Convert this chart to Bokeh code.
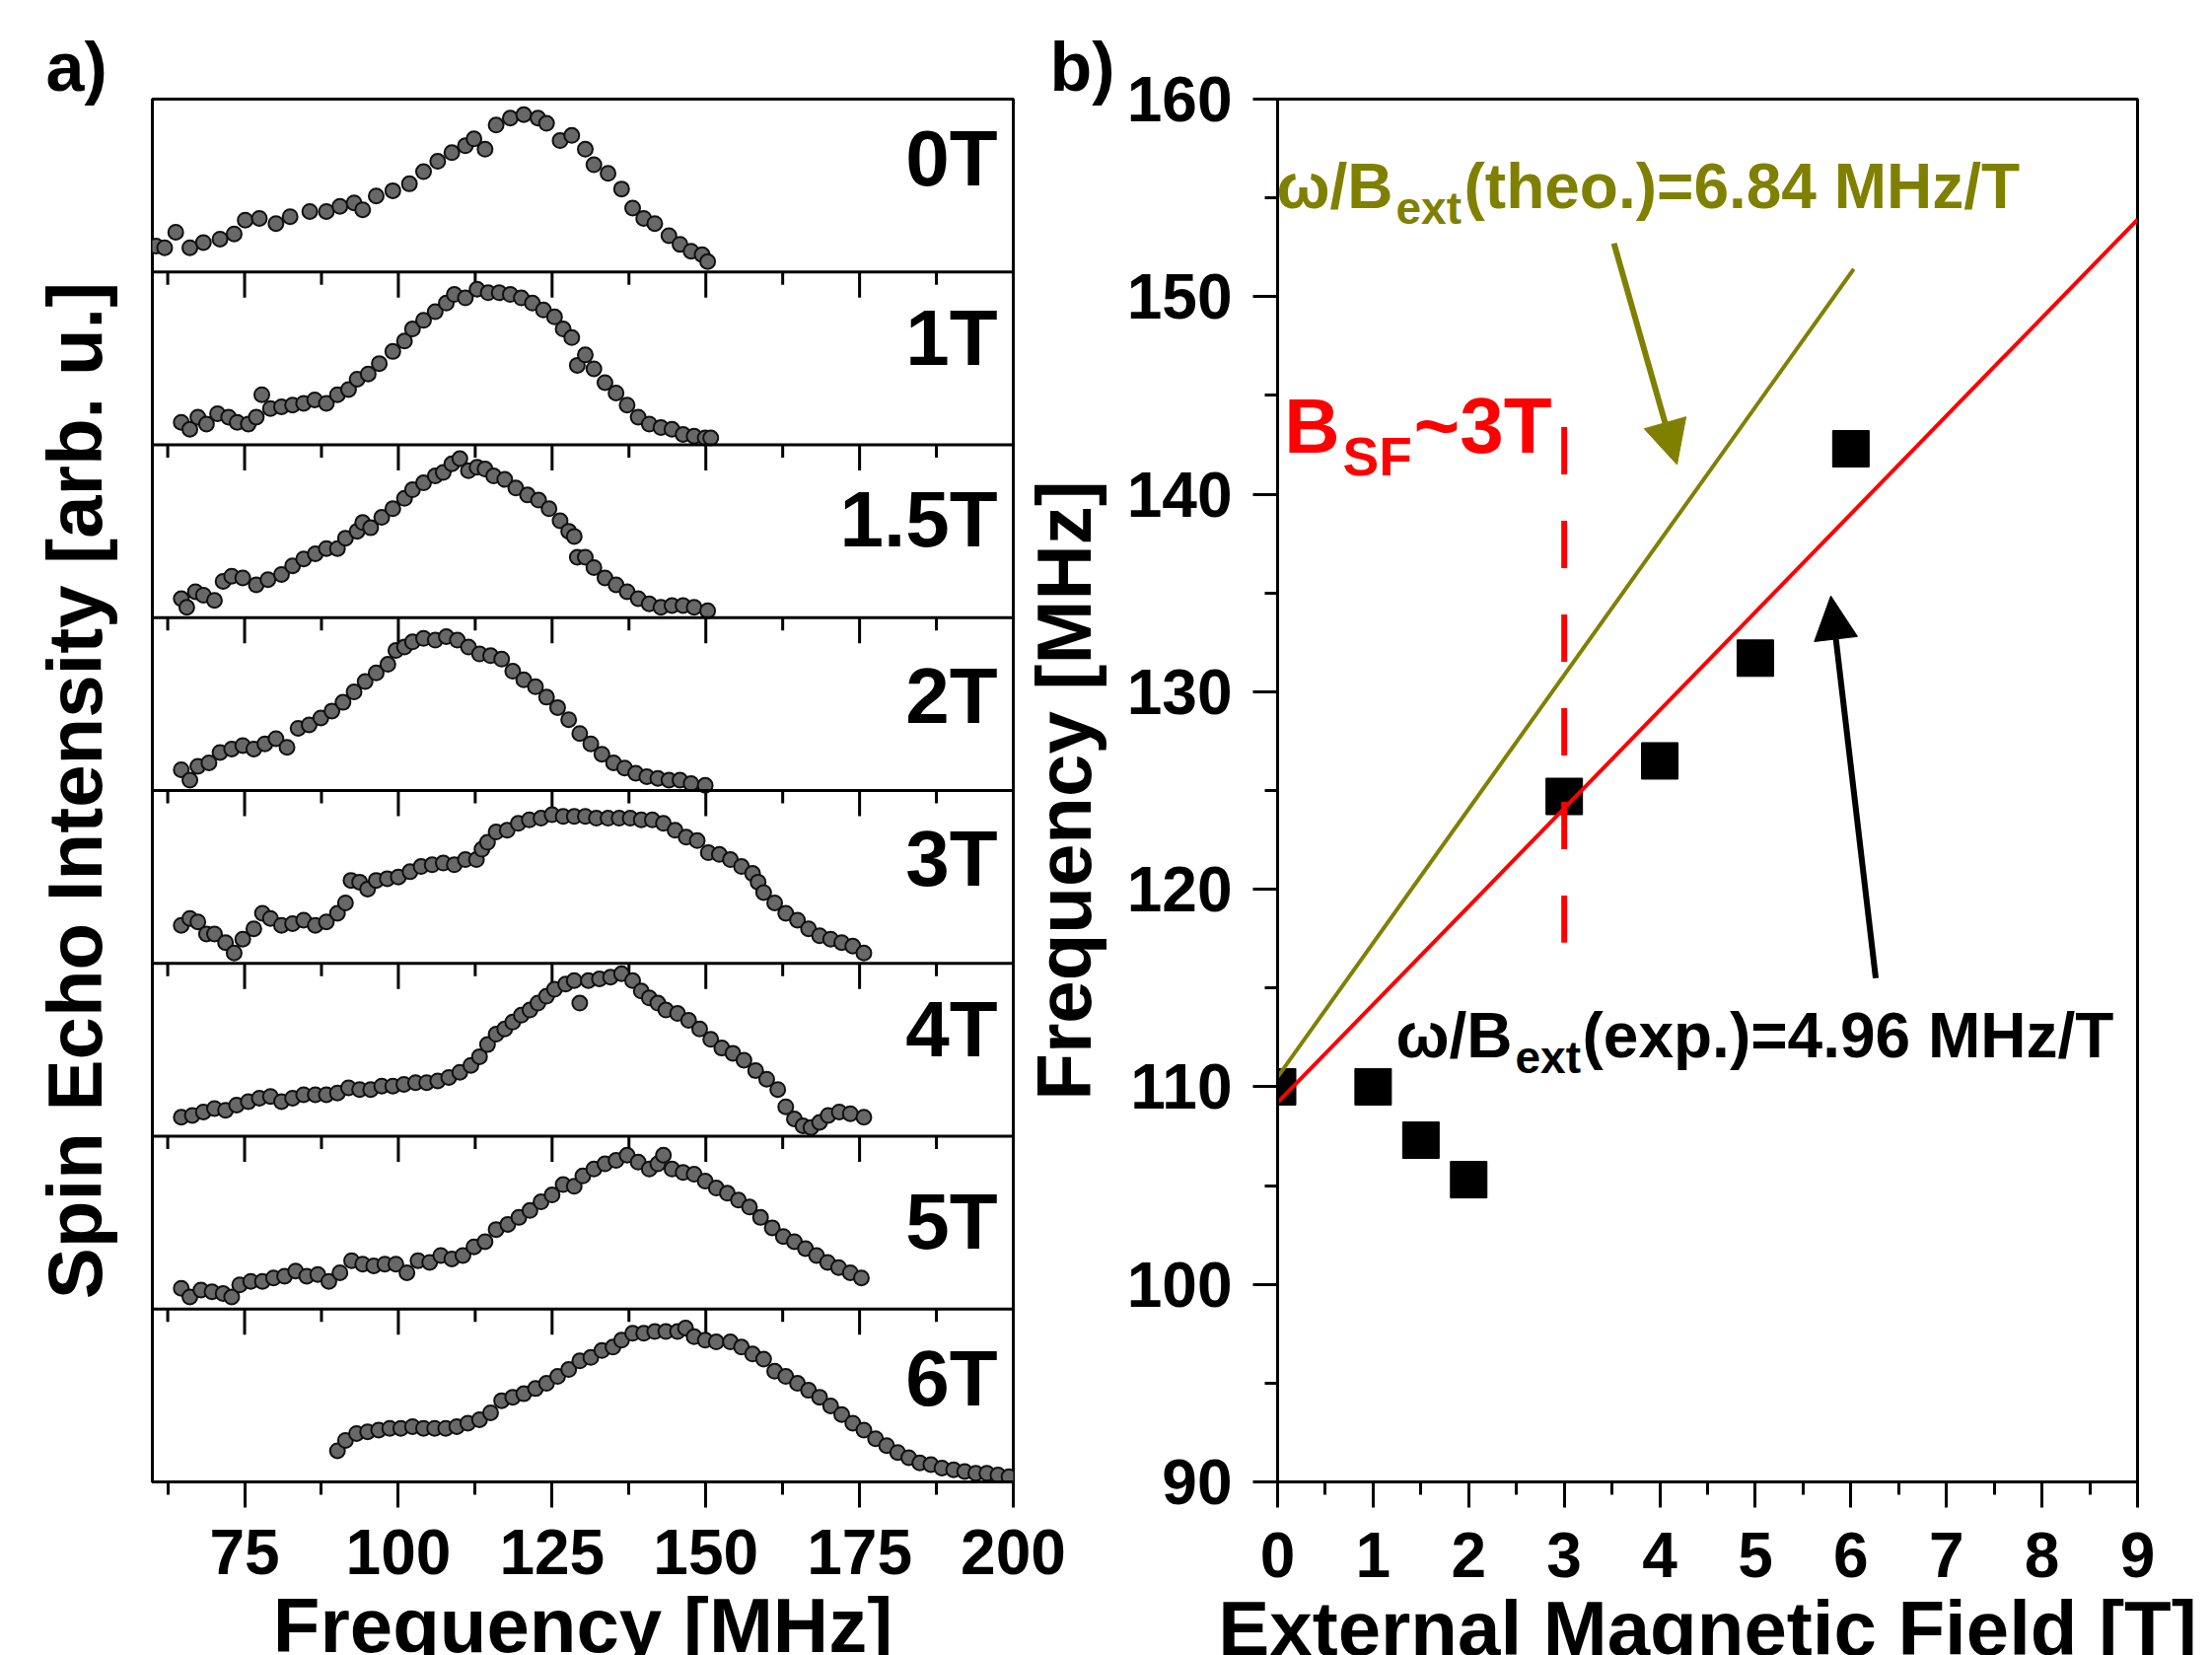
from bokeh.plotting import figure
from bokeh.models import Label, Span, FixedTicker, Arrow, NormalHead, Range1d, Title
from bokeh.layouts import row
from bokeh.embed import file_html
from bokeh.resources import INLINE

FONT = "Liberation Sans"
OLIVE = "#808000"
RED = "#ff0000"

# ---------------- panel a: spin echo spectra (frequency MHz, normalised intensity) ----------------
fields_a = ["0T", "1T", "1.5T", "2T", "3T", "4T", "5T", "6T"]

spec_0T = [(60.6, 0.15), (62.0, 0.14), (63.8, 0.23), (66.1, 0.14), (68.3, 0.17), (71.0, 0.19), (73.3, 0.22),
           (75.1, 0.30), (77.4, 0.31), (80.1, 0.28), (82.4, 0.32), (85.6, 0.35), (88.3, 0.35), (90.5, 0.38),
           (92.8, 0.40), (94.2, 0.36), (96.4, 0.44), (99.1, 0.47), (101.8, 0.51), (104.1, 0.58), (106.4, 0.64),
           (108.7, 0.69), (110.9, 0.73), (112.3, 0.77), (114.1, 0.71), (115.9, 0.85), (118.2, 0.89), (120.4, 0.91),
           (122.7, 0.89), (124.1, 0.86), (126.3, 0.76), (128.2, 0.79), (130.4, 0.71), (131.8, 0.62), (134.1, 0.57),
           (136.3, 0.48), (138.1, 0.37), (139.9, 0.31), (141.7, 0.28), (144.0, 0.21), (145.8, 0.16), (147.6, 0.12),
           (149.4, 0.10), (150.3, 0.06)]

spec_1T = [(64.7, 0.13), (66.1, 0.09), (67.4, 0.16), (68.8, 0.12), (70.6, 0.18), (72.4, 0.16), (73.8, 0.13),
           (75.6, 0.12), (76.9, 0.16), (77.8, 0.29), (79.2, 0.21), (81.0, 0.22), (82.8, 0.23), (84.6, 0.24),
           (86.4, 0.26), (88.3, 0.24), (90.1, 0.29), (91.9, 0.32), (93.3, 0.38), (95.1, 0.41), (96.9, 0.47),
           (99.1, 0.54), (101.0, 0.60), (102.3, 0.67), (104.1, 0.72), (106.0, 0.77), (107.8, 0.82), (109.1, 0.87),
           (110.9, 0.85), (112.8, 0.90), (114.6, 0.88), (116.4, 0.88), (118.2, 0.87), (120.0, 0.85), (121.8, 0.82),
           (123.6, 0.78), (125.4, 0.74), (126.8, 0.67), (128.2, 0.62), (129.1, 0.46), (130.4, 0.52), (131.8, 0.44),
           (133.6, 0.36), (135.4, 0.30), (137.2, 0.23), (139.0, 0.16), (140.8, 0.12), (142.7, 0.10), (144.5, 0.09),
           (146.3, 0.06), (148.1, 0.05), (149.9, 0.04), (150.8, 0.04)]

spec_15T = [(64.7, 0.11), (65.6, 0.06), (67.0, 0.15), (68.3, 0.13), (70.1, 0.10), (71.5, 0.21), (72.9, 0.24),
            (74.7, 0.23), (76.9, 0.19), (78.8, 0.22), (81.0, 0.25), (82.8, 0.30), (84.6, 0.34), (86.5, 0.37),
            (88.3, 0.40), (90.1, 0.40), (91.4, 0.46), (93.3, 0.50), (94.2, 0.55), (95.5, 0.52), (97.3, 0.58),
            (99.1, 0.63), (101.0, 0.69), (102.3, 0.74), (104.1, 0.78), (106.0, 0.82), (107.3, 0.84), (108.7, 0.89),
            (110.0, 0.92), (111.4, 0.85), (112.8, 0.87), (114.1, 0.86), (115.5, 0.82), (117.3, 0.80), (119.1, 0.75),
            (121.0, 0.71), (122.8, 0.68), (124.5, 0.63), (126.3, 0.56), (127.7, 0.50), (128.6, 0.47), (129.1, 0.35),
            (130.4, 0.35), (131.8, 0.29), (133.6, 0.23), (135.4, 0.19), (137.2, 0.15), (139.0, 0.11), (140.8, 0.08),
            (142.7, 0.06), (144.5, 0.07), (146.3, 0.07), (148.1, 0.06), (150.3, 0.04)]

spec_2T = [(64.7, 0.12), (66.1, 0.06), (67.4, 0.14), (69.2, 0.16), (71.0, 0.22), (72.9, 0.24), (74.7, 0.26),
           (76.5, 0.24), (78.3, 0.27), (80.1, 0.30), (81.9, 0.25), (83.7, 0.36), (85.5, 0.38), (87.4, 0.42),
           (89.2, 0.46), (91.0, 0.51), (92.8, 0.57), (94.6, 0.63), (96.4, 0.68), (98.3, 0.73), (99.6, 0.81),
           (101.0, 0.83), (102.3, 0.86), (104.1, 0.88), (106.0, 0.87), (107.8, 0.89), (109.6, 0.87), (111.4, 0.83),
           (113.2, 0.79), (115.0, 0.78), (116.8, 0.76), (118.6, 0.69), (120.4, 0.64), (122.3, 0.60), (124.1, 0.54),
           (125.9, 0.48), (127.7, 0.41), (129.5, 0.33), (131.3, 0.27), (133.1, 0.21), (135.0, 0.16), (136.8, 0.13),
           (138.6, 0.10), (140.4, 0.08), (142.2, 0.07), (144.0, 0.06), (145.8, 0.06), (147.6, 0.04), (149.9, 0.03)]

spec_3T = [(64.7, 0.22), (66.1, 0.26), (67.4, 0.24), (68.8, 0.17), (70.1, 0.17), (71.9, 0.12), (73.3, 0.06),
           (74.7, 0.14), (76.5, 0.20), (77.9, 0.29), (79.2, 0.26), (81.0, 0.22), (82.8, 0.23), (84.6, 0.25),
           (86.5, 0.22), (88.3, 0.24), (90.1, 0.29), (91.4, 0.35), (92.3, 0.48), (93.7, 0.47), (95.0, 0.43),
           (96.4, 0.48), (98.2, 0.49), (100.0, 0.50), (101.9, 0.53), (103.7, 0.56), (105.5, 0.57), (107.3, 0.58),
           (109.1, 0.57), (110.9, 0.60), (112.7, 0.60), (113.6, 0.66), (114.5, 0.70), (115.9, 0.76), (117.7, 0.77),
           (119.5, 0.81), (121.3, 0.83), (123.2, 0.84), (125.0, 0.86), (126.8, 0.85), (128.6, 0.85), (130.4, 0.85),
           (132.2, 0.84), (134.1, 0.84), (135.9, 0.84), (137.7, 0.84), (139.5, 0.83), (141.3, 0.83), (143.1, 0.81),
           (145.0, 0.77), (146.8, 0.73), (148.6, 0.71), (150.4, 0.64), (152.2, 0.63), (154.0, 0.60), (155.8, 0.56),
           (157.6, 0.52), (158.5, 0.47), (159.4, 0.41), (161.2, 0.35), (163.0, 0.29), (164.9, 0.25), (166.7, 0.20),
           (168.5, 0.16), (170.3, 0.14), (172.1, 0.12), (173.9, 0.10), (175.7, 0.06)]

spec_4T = [(64.7, 0.11), (66.5, 0.12), (68.3, 0.14), (70.1, 0.16), (71.9, 0.15), (73.7, 0.18), (75.6, 0.20),
           (77.4, 0.22), (79.2, 0.23), (81.0, 0.20), (82.8, 0.22), (84.6, 0.24), (86.5, 0.24), (88.3, 0.24),
           (90.1, 0.25), (91.9, 0.28), (93.7, 0.27), (95.5, 0.27), (97.3, 0.29), (99.1, 0.29), (100.9, 0.30),
           (102.8, 0.31), (104.6, 0.31), (106.4, 0.32), (108.2, 0.34), (110.0, 0.37), (111.8, 0.41), (113.2, 0.46),
           (114.5, 0.53), (115.9, 0.59), (117.3, 0.62), (118.6, 0.66), (120.0, 0.70), (121.4, 0.73), (122.7, 0.77),
           (124.1, 0.81), (125.4, 0.85), (127.2, 0.88), (128.6, 0.90), (129.5, 0.77), (130.9, 0.90), (132.7, 0.91),
           (134.5, 0.92), (136.3, 0.94), (138.1, 0.90), (139.5, 0.84), (140.8, 0.80), (142.2, 0.77), (143.5, 0.73),
           (145.4, 0.71), (147.2, 0.67), (149.0, 0.62), (150.8, 0.56), (152.6, 0.51), (154.4, 0.48), (156.2, 0.44),
           (158.1, 0.38), (159.9, 0.33), (161.7, 0.27), (163.0, 0.17), (164.4, 0.10), (165.8, 0.06), (167.1, 0.05),
           (168.5, 0.08), (169.9, 0.12), (171.7, 0.14), (173.5, 0.13), (175.7, 0.11)]

spec_5T = [(64.7, 0.12), (66.1, 0.07), (67.9, 0.11), (69.7, 0.10), (71.5, 0.09), (72.9, 0.07), (74.2, 0.14),
           (76.0, 0.16), (77.9, 0.16), (79.7, 0.18), (81.5, 0.19), (83.3, 0.22), (85.1, 0.19), (86.9, 0.20),
           (88.7, 0.16), (90.5, 0.21), (92.4, 0.28), (94.2, 0.26), (96.0, 0.25), (97.8, 0.26), (99.6, 0.26),
           (101.4, 0.21), (103.2, 0.28), (105.1, 0.27), (106.9, 0.31), (108.7, 0.29), (110.5, 0.31), (112.3, 0.36),
           (114.1, 0.39), (115.9, 0.46), (117.8, 0.49), (119.6, 0.53), (121.4, 0.57), (123.2, 0.62), (125.0, 0.66),
           (126.8, 0.72), (128.6, 0.71), (130.0, 0.77), (131.8, 0.81), (133.6, 0.84), (135.4, 0.86), (137.2, 0.89),
           (139.0, 0.85), (140.8, 0.81), (142.2, 0.84), (143.1, 0.89), (144.5, 0.81), (146.3, 0.79), (148.1, 0.78),
           (149.9, 0.74), (151.7, 0.70), (153.5, 0.67), (155.3, 0.63), (157.1, 0.59), (158.9, 0.53), (160.8, 0.47),
           (162.6, 0.42), (164.4, 0.39), (166.2, 0.35), (168.0, 0.31), (169.8, 0.27), (171.6, 0.24), (173.5, 0.21),
           (175.3, 0.18)]

spec_6T = [(90.1, 0.18), (91.4, 0.24), (93.2, 0.28), (95.0, 0.29), (96.8, 0.30), (98.6, 0.31), (100.4, 0.31),
           (102.3, 0.32), (104.1, 0.31), (105.9, 0.31), (107.7, 0.31), (109.5, 0.32), (111.3, 0.34), (113.2, 0.36),
           (115.0, 0.40), (116.8, 0.47), (118.6, 0.49), (120.4, 0.51), (122.3, 0.54), (124.1, 0.57), (125.9, 0.61),
           (127.7, 0.65), (129.5, 0.70), (131.3, 0.72), (133.1, 0.76), (134.9, 0.78), (136.3, 0.82), (138.1, 0.86),
           (139.9, 0.86), (141.7, 0.87), (143.5, 0.87), (145.4, 0.87), (146.7, 0.89), (148.1, 0.84), (149.9, 0.82),
           (151.7, 0.81), (154.0, 0.81), (155.8, 0.78), (157.6, 0.74), (159.4, 0.71), (161.2, 0.64), (163.0, 0.61),
           (164.9, 0.57), (166.7, 0.53), (168.5, 0.49), (170.3, 0.44), (172.1, 0.39), (173.9, 0.34), (175.7, 0.30),
           (177.6, 0.25), (179.4, 0.21), (181.2, 0.17), (183.0, 0.14), (184.8, 0.11), (186.6, 0.10), (188.4, 0.08),
           (190.3, 0.07), (192.1, 0.06), (193.9, 0.05), (195.7, 0.05), (197.5, 0.04), (199.3, 0.03)]

spectra_a = [spec_0T, spec_1T, spec_15T, spec_2T, spec_3T, spec_4T, spec_5T, spec_6T]

freq_ticks_a = [75, 100, 125, 150, 175, 200]
freq_minor_a = [62.5, 87.5, 112.5, 137.5, 162.5, 187.5]

# ---------------- panel b: peak frequency vs. external field ----------------
field_T = [0, 1, 1.5, 2, 3, 4, 5, 6]
peak_MHz = [110.0, 110.0, 107.3, 105.3, 124.7, 126.5, 131.7, 142.3]

fit_exp_B = [0, 9]
fit_exp_f = [109.2, 153.9]
fit_theo_B = [0, 6.03]
fit_theo_f = [110.5, 151.4]
bsf_B = [3, 3]
bsf_f = [143.4, 117.3]
arrow_theo = (3.52, 152.7, 4.18, 141.5)
arrow_exp = (6.26, 115.5, 5.79, 134.85)

field_ticks_b = [0, 1, 2, 3, 4, 5, 6, 7, 8, 9]
field_minor_b = [0.5, 1.5, 2.5, 3.5, 4.5, 5.5, 6.5, 7.5, 8.5]
freq_ticks_b = [90, 100, 110, 120, 130, 140, 150, 160]
freq_minor_b = [95, 105, 115, 125, 135, 145, 155]

# ---------------- geometry (page pixels) ----------------
TOP, BOTTOM = 100, 1502
A_LEFT, A_RIGHT = 154, 1027
A_CANVAS_W = 1090
B_LEFT, B_RIGHT = 1295, 2167
B_CANVAS_X = 1030
PAGE_W = 2243

A_XMIN, A_XMAX = 60, 200
A_PXX = (A_RIGHT - A_LEFT) / (A_XMAX - A_XMIN)
A_PXY = (BOTTOM - TOP) / 8.0
B_PXX = (B_RIGHT - B_LEFT) / 9.0
B_PXY = (BOTTOM - TOP) / 70.0
BASE_SHIFT = 0.35   # label anchor sits this fraction of the font size above the baseline


def ax(px):
    return A_XMIN + (px - A_LEFT) / A_PXX


def bx(px):
    return (px - B_LEFT) / B_PXX


def by(py):
    return 160 - (py - TOP) / B_PXY


def lab(p, x, y, text, size, pxy, color="black", align="left", x_offset=0):
    p.add_layout(Label(x=x, y=y + BASE_SHIFT * size / pxy, text=text, text_font=FONT,
                       text_font_style="bold", text_font_size=f"{size}px", text_color=color,
                       text_align=align, text_baseline="alphabetic", x_offset=x_offset))


def style_axis(a, ticks, minor, tick_out=26, minor_out=13, standoff=22):
    a.ticker = FixedTicker(ticks=ticks, minor_ticks=minor)
    a.major_tick_out = tick_out
    a.major_tick_in = 0
    a.minor_tick_out = minor_out
    a.minor_tick_in = 0
    a.major_tick_line_width = 3
    a.minor_tick_line_width = 3
    a.axis_line_width = 3
    a.major_label_text_font = FONT
    a.major_label_text_font_style = "bold"
    a.major_label_text_font_size = "64px"
    a.major_label_text_color = "black"
    a.major_label_standoff = standoff


def style_title(a, text, standoff):
    a.axis_label = text
    a.axis_label_text_font = FONT
    a.axis_label_text_font_style = "bold"
    a.axis_label_text_font_size = "78px"
    a.axis_label_text_color = "black"
    a.axis_label_standoff = standoff


# ---------------- figure a ----------------
pa = figure(frame_width=A_RIGHT - A_LEFT, frame_height=BOTTOM - TOP,
            x_range=Range1d(A_XMIN, A_XMAX), y_range=Range1d(0, 8),
            output_backend="svg", toolbar_location=None, tools="",
            min_border_left=A_LEFT, min_border_right=A_CANVAS_W - A_RIGHT,
            min_border_top=TOP, min_border_bottom=176)
pa.title = Title(text="a)", align="left", offset=46 - A_LEFT, standoff=-13,
                 text_font=FONT, text_font_style="bold", text_font_size="70px", text_color="black")
pa.grid.visible = False
pa.outline_line_color = "black"
pa.outline_line_width = 3
pa.background_fill_color = "white"
pa.border_fill_color = "white"
style_axis(pa.xaxis[0], freq_ticks_a, freq_minor_a, standoff=22)
style_title(pa.xaxis[0], "Frequency [MHz]", 5)

ya = pa.yaxis[0]
ya.ticker = FixedTicker(ticks=[])
ya.axis_line_color = None
ya.major_tick_out = 0
ya.major_tick_in = 0
ya.minor_tick_out = 0
ya.minor_tick_in = 0
style_title(ya, "Spin Echo Intensity [arb. u.]", 35)

n = len(spectra_a)
for k in range(1, n):
    pa.add_layout(Span(location=k, dimension="width", line_color="black", line_width=3))

# tick marks hanging from each inner boundary (derived from the tick lists)
maj_len = 26 / A_PXY
min_len = 13 / A_PXY
x0, y0, x1, y1 = [], [], [], []
for k in range(1, n):
    for t in freq_ticks_a:
        x0.append(t); x1.append(t); y0.append(k); y1.append(k - maj_len)
    for t in freq_minor_a:
        x0.append(t); x1.append(t); y0.append(k); y1.append(k - min_len)
pa.segment(x0=x0, y0=y0, x1=x1, y1=y1, line_color="black", line_width=3)

for i, spec in enumerate(spectra_a):
    base = n - 1 - i
    xs = [f for f, _ in spec]
    ys = [base + v for _, v in spec]
    pa.scatter(xs, ys, marker="circle", size=15, fill_color="#686868",
               line_color="#101010", line_width=2)

label_drop = [88, 95, 103, 107, 97, 95, 114, 98]
for i, name in enumerate(fields_a):
    lab(pa, ax(1011), (n - i) - label_drop[i] / A_PXY, name, 80, A_PXY, align="right")

# ---------------- figure b ----------------
pb = figure(frame_width=B_RIGHT - B_LEFT, frame_height=BOTTOM - TOP,
            x_range=Range1d(0, 9), y_range=Range1d(90, 160),
            output_backend="svg", toolbar_location=None, tools="",
            min_border_left=B_LEFT - B_CANVAS_X, min_border_right=PAGE_W - B_RIGHT,
            min_border_top=TOP, min_border_bottom=176)
pb.margin = (0, 0, 0, B_CANVAS_X - A_CANVAS_W)
pb.title = Title(text="b)", align="left", offset=1064 - B_LEFT, standoff=-13,
                 text_font=FONT, text_font_style="bold", text_font_size="70px", text_color="black")
pb.grid.visible = False
pb.outline_line_color = "black"
pb.outline_line_width = 3
pb.background_fill_color = "white"
pb.border_fill_color = None
style_axis(pb.xaxis[0], field_ticks_b, field_minor_b, standoff=25)
style_axis(pb.yaxis[0], freq_ticks_b, freq_minor_b, tick_out=25, standoff=21)
style_title(pb.xaxis[0], "External Magnetic Field [T]", 5)
style_title(pb.yaxis[0], "Frequency [MHz]", 17)

pb.scatter(field_T, peak_MHz, marker="square", size=37, color="black")
pb.line(fit_theo_B, fit_theo_f, line_color=OLIVE, line_width=4)
pb.line(fit_exp_B, fit_exp_f, line_color=RED, line_width=4)
pb.line(bsf_B, bsf_f, line_color=RED, line_width=6, line_dash="48 47")

for (xs_, ys_, xe_, ye_), col in ((arrow_theo, OLIVE), (arrow_exp, "black")):
    pb.add_layout(Arrow(end=NormalHead(size=44, fill_color=col, line_color=col, line_width=1),
                        x_start=xs_, y_start=ys_, x_end=xe_, y_end=ye_,
                        line_color=col, line_width=6))

# omega / B_ext (theo.) label
jx = bx(1412)
lab(pb, jx, by(211), "\u03c9/B", 64, B_PXY, color=OLIVE, align="right")
lab(pb, jx, by(227), "ext", 46, B_PXY, color=OLIVE, x_offset=3)
lab(pb, jx, by(211), "(theo.)=6.84 MHz/T", 64, B_PXY, color=OLIVE, x_offset=72)

# B_SF ~ 3T label
jx = bx(1358)
lab(pb, jx, by(459), "B", 78, B_PXY, color=RED, align="right")
lab(pb, jx, by(482), "SF", 55, B_PXY, color=RED, x_offset=3)
lab(pb, jx, by(459), "~3T", 80, B_PXY, color=RED, x_offset=75)

# omega / B_ext (exp.) label
jx = bx(1533)
lab(pb, jx, by(1072), "\u03c9/B", 64, B_PXY, color="black", align="right")
lab(pb, jx, by(1088), "ext", 46, B_PXY, color="black", x_offset=3)
lab(pb, jx, by(1072), "(exp.)=4.96 MHz/T", 64, B_PXY, color="black", x_offset=71)

layout = row(pa, pb)
open("out.html", "w").write(file_html(layout, INLINE, title="NMR spectra"))
